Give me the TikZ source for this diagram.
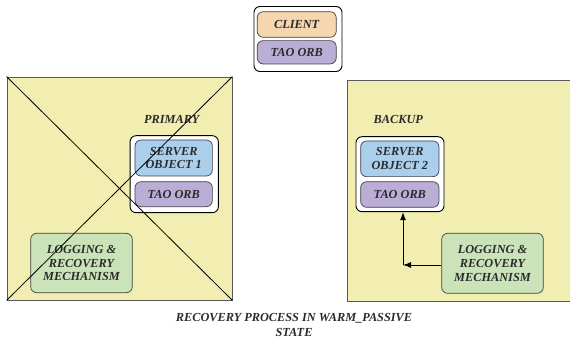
\documentclass[tikz,border=0pt]{standalone}
\usepackage{fontspec}
\setmainfont{Liberation Serif}
\usepackage{tikz}
\usetikzlibrary{arrows,arrows.meta,positioning,calc}
\definecolor{hostyellow}{HTML}{F2EDB0}
\definecolor{clientorange}{HTML}{F5D6AF}
\definecolor{orbpurple}{HTML}{BBAED6}
\definecolor{servblue}{HTML}{AACFEC}
\definecolor{loggreen}{HTML}{CBE3B9}
\definecolor{txtgray}{HTML}{2B2B2B}
\tikzstyle{host}=[draw=black!65,fill=hostyellow,line width=0.8pt,inner sep=0pt]
\tikzstyle{group}=[draw=black,fill=white,rounded corners=6pt,line width=0.9pt,inner sep=0pt]
\tikzstyle{part}=[draw=black!75,rounded corners=6pt,line width=0.7pt,inner sep=0pt,align=center,text=txtgray,font=\fontsize{12.3}{13.8}\selectfont\bfseries\itshape]
\tikzstyle{label}=[text=txtgray,font=\fontsize{12.3}{14.5}\selectfont\bfseries\itshape,align=center]

\begin{document}
\begin{tikzpicture}[x=1pt,y=-1pt,>={Latex[length=8pt,width=6pt]}]
\useasboundingbox (0,0) rectangle (570,339);
% client side
\node [group,minimum width=88pt,minimum height=65pt] (clientgrp) at (298,39) {};
\node [part,fill=clientorange,minimum width=79pt,minimum height=25.6pt] (client) at (296.7,24.5) {CLIENT};
\node [part,fill=orbpurple,minimum width=79pt,minimum height=23.3pt] (clientorb) at (296.7,52.3) {TAO ORB};
% primary host, crossed out
\node [host,minimum width=225pt,minimum height=223pt] (primary) at (119.5,188.5) {};
\node [label] (primarytxt) at (171.7,119) {PRIMARY};
\node [group,minimum width=88.3pt,minimum height=77pt] (servgrp1) at (174.2,174.2) {};
\node [part,fill=servblue,minimum width=77.3pt,minimum height=36pt] (serv1) at (173.7,158) {SERVER\\OBJECT 1};
\node [part,fill=orbpurple,minimum width=77.3pt,minimum height=25pt] (orb1) at (173.7,194.2) {TAO ORB};
\node [part,fill=loggreen,minimum width=101.6pt,minimum height=59.4pt] (log1) at (81.5,263) {LOGGING \&\\RECOVERY\\MECHANISM};
\draw [line width=0.8pt] (primary.north west) -- (primary.south east);
\draw [line width=0.8pt] (primary.south west) -- (primary.north east);
% backup host
\node [host,minimum width=224pt,minimum height=221pt] (backup) at (459,190.5) {};
\node [label] (backuptxt) at (398.3,119) {BACKUP};
\node [group,minimum width=88pt,minimum height=75pt] (servgrp2) at (400,174.2) {};
\node [part,fill=servblue,minimum width=78.3pt,minimum height=35.7pt] (serv2) at (399.8,158.8) {SERVER\\OBJECT 2};
\node [part,fill=orbpurple,minimum width=78.3pt,minimum height=25.6pt] (orb2) at (399.8,194.5) {TAO ORB};
\node [part,fill=loggreen,minimum width=101.6pt,minimum height=60pt] (log2) at (492.5,263.3) {LOGGING \&\\RECOVERY\\MECHANISM};
\coordinate (bend) at (403,265);
\draw [->,line width=1pt] (log2.west |- bend) -- (bend);
\draw [->,line width=1pt] (bend) -- (bend |- servgrp2.south);
% caption
\node [label] (caption) at (294,325) {RECOVERY PROCESS IN WARM\_PASSIVE\\STATE};
\end{tikzpicture}
\end{document}
